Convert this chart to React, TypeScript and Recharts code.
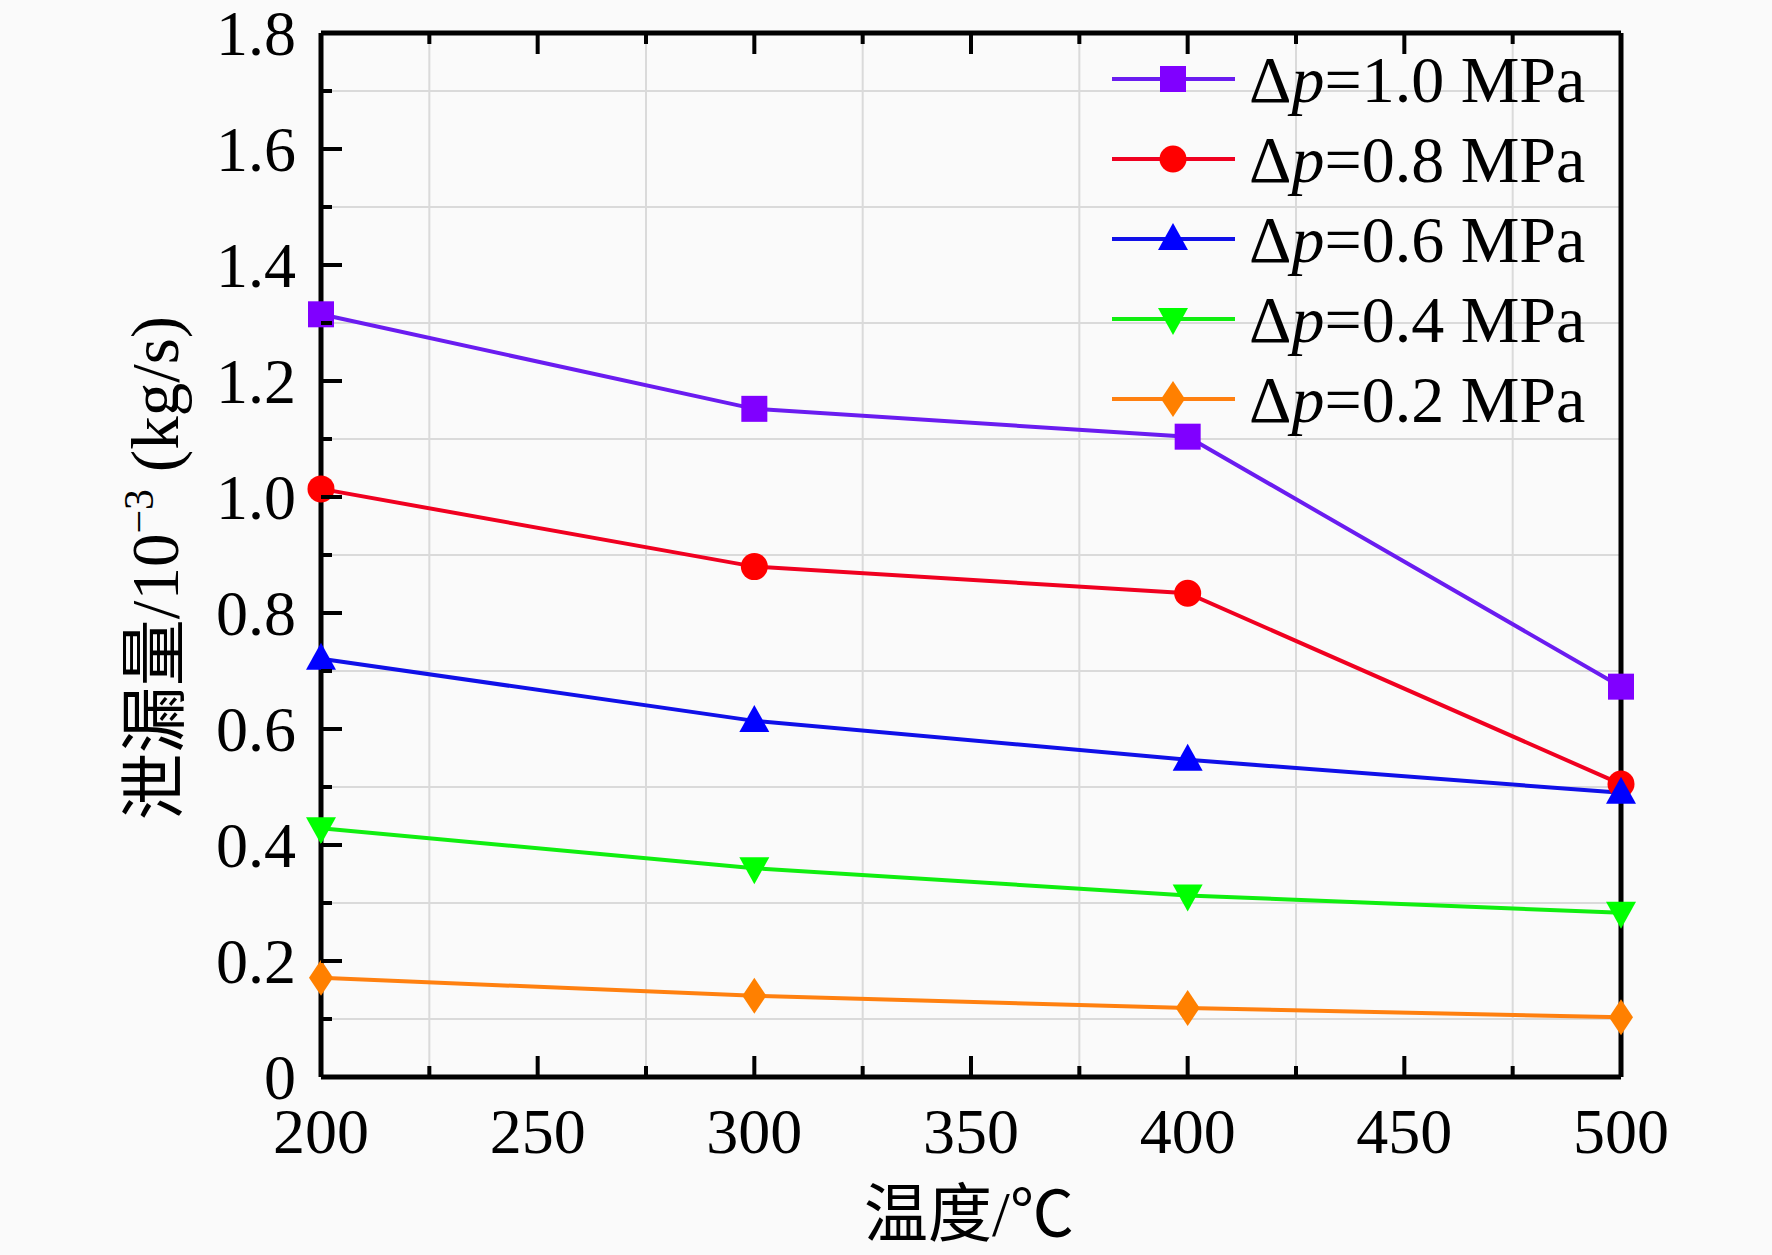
import React from 'react'
import { LineChart, Line, XAxis, YAxis, CartesianGrid, Legend } from 'recharts'

// temperature (°C)
const temps = [200, 300, 400, 500]

// leakage, 10^-3 kg/s
const dp10 = [1.315, 1.152, 1.104, 0.673]
const dp08 = [1.014, 0.88, 0.834, 0.505]
const dp06 = [0.721, 0.614, 0.547, 0.49]
const dp04 = [0.429, 0.36, 0.313, 0.283]
const dp02 = [0.171, 0.14, 0.119, 0.103]

const xTicks = [200, 225, 250, 275, 300, 325, 350, 375, 400, 425, 450, 475, 500]
const xMajor = [200, 250, 300, 350, 400, 450, 500]
const xGrid = [225, 275, 325, 375, 425, 475]

const yTicks = [0, 0.1, 0.2, 0.3, 0.4, 0.5, 0.6, 0.7, 0.8, 0.9, 1.0, 1.1, 1.2, 1.3, 1.4, 1.5, 1.6, 1.7, 1.8]
const yMajor = [0, 0.2, 0.4, 0.6, 0.8, 1.0, 1.2, 1.4, 1.6, 1.8]
const yGrid = [0.1, 0.3, 0.5, 0.7, 0.9, 1.1, 1.3, 1.5, 1.7]

const seriesNames = ['1.0', '0.8', '0.6', '0.4', '0.2']

const data = temps.map((t, i) => ({
  t,
  dp10: dp10[i],
  dp08: dp08[i],
  dp06: dp06[i],
  dp04: dp04[i],
  dp02: dp02[i],
}))

const W = 1772
const H = 1255
const FONT = '"Liberation Serif", "Times New Roman", "Noto Sans CJK SC", serif'
const FS = 64
const AXIS = { stroke: '#000', strokeWidth: 5 }

type Shape = 'square' | 'circle' | 'triangle' | 'down' | 'diamond'

const series: { key: string; name: string; line: string; fill: string; shape: Shape }[] = [
  { key: 'dp10', name: seriesNames[0], line: '#6a1cf0', fill: '#8000ff', shape: 'square' },
  { key: 'dp08', name: seriesNames[1], line: '#f00020', fill: '#ff0000', shape: 'circle' },
  { key: 'dp06', name: seriesNames[2], line: '#1010e8', fill: '#0000ff', shape: 'triangle' },
  { key: 'dp04', name: seriesNames[3], line: '#10ee10', fill: '#00ff00', shape: 'down' },
  { key: 'dp02', name: seriesNames[4], line: '#ff8010', fill: '#ff8000', shape: 'diamond' },
]

function marker(shape: Shape, cx: number, cy: number, fill: string, key?: string) {
  const s = 13
  switch (shape) {
    case 'square':
      return <rect key={key} x={cx - s} y={cy - s} width={s * 2} height={s * 2} fill={fill} />
    case 'circle':
      return <circle key={key} cx={cx} cy={cy} r={13.5} fill={fill} />
    case 'triangle':
      return <polygon key={key} points={`${cx},${cy - 16} ${cx + 15},${cy + 11} ${cx - 15},${cy + 11}`} fill={fill} />
    case 'down':
      return <polygon key={key} points={`${cx},${cy + 16} ${cx + 15},${cy - 11} ${cx - 15},${cy - 11}`} fill={fill} />
    case 'diamond':
      return <polygon key={key} points={`${cx},${cy - 18} ${cx + 12},${cy} ${cx},${cy + 18} ${cx - 12},${cy}`} fill={fill} />
  }
}

const BottomTick = (props: any) => {
  const { x, y, payload } = props
  const major = xMajor.includes(payload.value)
  return (
    <g>
      <line x1={x} y1={y} x2={x} y2={y - (major ? 21 : 11)} stroke="#000" strokeWidth={4} />
      {major && (
        <text x={x} y={y + 76} textAnchor="middle" fontFamily={FONT} fontSize={FS} fill="#000">
          {payload.value}
        </text>
      )}
    </g>
  )
}

const TopTick = (props: any) => {
  const { x, y, payload } = props
  const major = xMajor.includes(payload.value)
  return <line x1={x} y1={y} x2={x} y2={y + (major ? 21 : 11)} stroke="#000" strokeWidth={4} />
}

const LeftTick = (props: any) => {
  const { x, y, payload } = props
  const v = Math.round(payload.value * 10) / 10
  const major = yMajor.includes(v)
  return (
    <g>
      <line x1={x} y1={y} x2={x + (major ? 21 : 11)} y2={y} stroke="#000" strokeWidth={4} />
      {major && (
        <text x={x - 25} y={y + 22} textAnchor="end" fontFamily={FONT} fontSize={FS} fill="#000">
          {v === 0 ? '0' : v.toFixed(1)}
        </text>
      )}
    </g>
  )
}

const RightTick = (props: any) => {
  const { x, y, payload } = props
  const v = Math.round(payload.value * 10) / 10
  const major = yMajor.includes(v)
  return <line x1={x} y1={y} x2={x - (major ? 21 : 11)} y2={y} stroke="#000" strokeWidth={4} />
}

const YTitle = () => (
  <text
    x={178}
    y={568}
    transform="rotate(-90, 178, 568)"
    textAnchor="middle"
    fontFamily={FONT}
    fontSize={67}
    fill="#000"
  >
    泄漏量/10
    <tspan dy={-25} fontSize={42}>
      −3
    </tspan>
    <tspan dy={25}> (kg/s)</tspan>
  </text>
)

const XTitle = () => (
  <text x={969} y={1236} textAnchor="middle" fontFamily={FONT} fontSize={FS} fill="#000">
    温度/℃
  </text>
)

const LegendBox = () => (
  <svg width={560} height={440} style={{ display: 'block', overflow: 'visible' }}>
    {series.map((s, i) => {
      const cy = 49 + i * 80
      return (
        <g key={s.key}>
          <line x1={12} y1={cy} x2={135} y2={cy} stroke={s.line} strokeWidth={4} />
          {marker(s.shape, 73, cy, s.fill)}
          <text x={149} y={cy + 23} fontFamily={FONT} fontSize={66} fill="#000">
            Δ<tspan fontStyle="italic">p</tspan>={s.name} MPa
          </text>
        </g>
      )
    })}
  </svg>
)

export default function App() {
  return (
    <div style={{ position: 'absolute', left: 0, top: 0, width: W, height: H, background: '#fafafa' }}>
      <LineChart width={W} height={H} data={data} margin={{ top: 32, right: 0, bottom: 0, left: 0 }}>
        <CartesianGrid
          horizontalValues={yGrid}
          verticalValues={xGrid}
          stroke="#dadada"
          strokeWidth={2}
        />
        <XAxis
          dataKey="t"
          type="number"
          domain={[200, 500]}
          ticks={xTicks}
          interval={0}
          height={178}
          tickSize={0}
          tickMargin={0}
          tick={<BottomTick />}
          axisLine={AXIS}
          tickLine={false}
          label={<XTitle />}
        />
        <XAxis
          xAxisId="top"
          orientation="top"
          dataKey="t"
          type="number"
          domain={[200, 500]}
          ticks={xTicks}
          interval={0}
          height={1}
          tickSize={0}
          tickMargin={0}
          tick={<TopTick />}
          axisLine={AXIS}
          tickLine={false}
        />
        <YAxis
          type="number"
          domain={[0, 1.8]}
          ticks={yTicks}
          interval={0}
          width={321}
          tickSize={0}
          tickMargin={0}
          tick={<LeftTick />}
          axisLine={AXIS}
          tickLine={false}
          label={<YTitle />}
        />
        <YAxis
          yAxisId="right"
          orientation="right"
          type="number"
          domain={[0, 1.8]}
          ticks={yTicks}
          interval={0}
          width={151}
          tickSize={0}
          tickMargin={0}
          tick={<RightTick />}
          axisLine={AXIS}
          tickLine={false}
        />
        <Legend
          layout="horizontal"
          verticalAlign="middle"
          align="center"
          content={<LegendBox />}
          wrapperStyle={{ position: 'absolute', left: 1100, top: 30, width: 560, height: 440 }}
        />
        {series.map((s) => (
          <Line
            key={s.key}
            dataKey={s.key}
            stroke={s.line}
            strokeWidth={4}
            isAnimationActive={false}
            dot={(p: any) => marker(s.shape, p.cx, p.cy, s.fill, `${s.key}-${p.index}`)}
            activeDot={false}
          />
        ))}
      </LineChart>
    </div>
  )
}
